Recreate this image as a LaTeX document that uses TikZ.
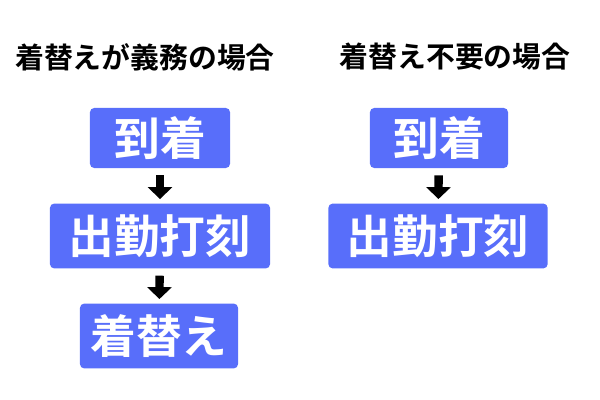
\documentclass[tikz,border=0pt]{standalone}
\usepackage{fontspec}
\newfontfamily\cjk{Noto Sans CJK JP}[BoldFont={Noto Sans CJK JP Bold}]
\usetikzlibrary{arrows.meta}
\definecolor{stepblue}{RGB}{88,110,250}
\tikzset{
  stepbox/.style={fill=stepblue, rounded corners=3pt, text=white,
    font=\cjk\bfseries\fontsize{32.5}{34}\selectfont, inner sep=0pt},
  title/.style={font=\cjk\bfseries\fontsize{20.5}{22}\selectfont},
  flow/.style={line width=6pt, -{Triangle[width=17pt,length=8.5pt]},
    shorten <=5pt, shorten >=3pt}
}
\begin{document}
\begin{tikzpicture}[x=0.025cm,y=-0.025cm]
\useasboundingbox (0,0) rectangle (600,400);
\node[title] (lt) at (145,57) {着替えが義務の場合};
\node[title] (rt) at (455,57) {着替え不要の場合};

\node[stepbox, minimum width=3.5cm, minimum height=1.5cm] (la) at (160,138) {到着};
\node[stepbox, minimum width=5.5cm, minimum height=1.62cm] (lb) at (160,236) {出勤打刻};
\node[stepbox, minimum width=3.95cm, minimum height=1.62cm] (lc) at (159,336) {着替え};

\node[stepbox, minimum width=3.45cm, minimum height=1.5cm] (ra) at (439,138) {到着};
\node[stepbox, minimum width=5.48cm, minimum height=1.62cm] (rb) at (438,236) {出勤打刻};

\draw[flow] (la) -- (lb);
\draw[flow] (lb) -- (lc);
\draw[flow] (ra) -- (rb);
\end{tikzpicture}
\end{document}
